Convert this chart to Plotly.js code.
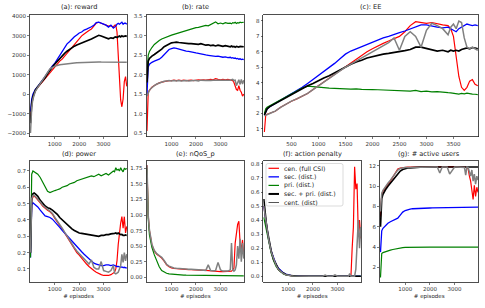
<!DOCTYPE html>
<html><head><meta charset="utf-8">
<script src="https://cdn.plot.ly/plotly-3.0.1.min.js"></script>
<style>html,body{margin:0;padding:0;background:#fff}#chart{width:485px;height:308px}</style>
</head><body><div id="chart"></div>
<script>
// shared episode axis
const episodes = [0,25,50,100,150,200,300,400,500,600,700,800,900,
 1000,1100,1200,1300,1400,1500,1600,1700,1800,1900,
 2000,2100,2200,2300,2400,2500,2600,2700,2800,2900,
 3000,3100,3200,3300,3400,
 3450,3500,3550,3600,3650,3700,3750,3800,3850,3900,3950];

const seriesNames = ['cen. (full CSI)','sec. (dist.)','pri. (dist.)','sec. + pri. (dist.)','cent. (dist)'];
const panelTitles = ['(a): reward','(b): rate','(c): EE','(d): power','(e): nQoS_p','(f): action penalty','(g): # active users'];
const xLabel = '# episodes';

// (a) reward
const reward_red = [-1300,-800,-500,-150,50,200,350,500,650,800,1000,1150,1300,
 1450,1550,1700,1800,1950,2080,2250,2420,2580,2730,
 2880,3000,3100,3200,3280,3350,3500,3660,3700,3660,
 3620,3560,3500,3520,3450,
 3550,3560,3200,1800,600,-300,-650,-250,650,900,400];
const reward_blue = [-900,-500,-250,0,150,250,400,550,700,900,1100,1300,1450,
 1600,1800,1950,2150,2380,2590,2700,2850,2950,3050,
 3150,3200,3300,3350,3400,3470,3550,3680,3700,3650,
 3600,3550,3450,3550,3400,
 3450,3500,3600,3650,3600,3650,3700,3600,3650,3650,3600];
const reward_black = [-1500,-900,-500,-150,50,200,380,520,680,850,1050,1250,1400,
 1550,1700,1850,1980,2100,2210,2300,2400,2470,2530,
 2590,2640,2700,2750,2790,2840,2900,2980,3030,2990,
 2930,2900,2850,2900,2870,
 2930,2950,2920,2970,2990,2950,3000,2960,2980,3000,2970];
const reward_gray = [-2000,-1200,-700,-250,0,150,350,550,750,950,1150,1300,1380,
 1440,1480,1510,1530,1550,1570,1580,1590,1600,1610,
 1620,1620,1630,1630,1640,1640,1650,1650,1660,1650,
 1650,1650,1640,1650,1640,
 1650,1640,1640,1650,1640,1640,1650,1640,1640,1650,1640];

// (b) rate
const rate_red = [0.55,1.45,1.55,1.6,1.65,1.68,1.72,1.76,1.79,1.81,1.83,1.84,1.85,
 1.85,1.86,1.85,1.86,1.85,1.86,1.85,1.86,1.86,1.85,
 1.86,1.87,1.86,1.87,1.86,1.87,1.88,1.87,1.9,1.88,
 1.87,1.88,1.87,1.88,1.87,
 1.86,1.85,1.8,1.7,1.62,1.6,1.72,1.6,1.55,1.45,1.5];
const rate_blue = [1.5,2.05,2.2,2.27,2.3,2.32,2.35,2.37,2.4,2.45,2.52,2.6,2.65,
 2.67,2.69,2.68,2.66,2.64,2.62,2.61,2.6,2.58,2.57,
 2.56,2.55,2.53,2.52,2.51,2.5,2.49,2.48,2.47,2.48,
 2.46,2.45,2.46,2.44,2.45,
 2.43,2.44,2.42,2.43,2.41,2.42,2.4,2.41,2.39,2.4,2.39];
const rate_green = [2.0,2.35,2.5,2.6,2.66,2.7,2.78,2.84,2.88,2.92,2.95,2.98,3.0,
 3.02,3.04,3.06,3.08,3.1,3.12,3.13,3.15,3.17,3.19,
 3.21,3.22,3.24,3.25,3.27,3.26,3.29,3.31,3.36,3.31,
 3.33,3.31,3.34,3.32,3.33,
 3.31,3.34,3.33,3.35,3.32,3.34,3.33,3.35,3.34,3.34,3.35];
const rate_black = [1.8,2.2,2.35,2.42,2.46,2.48,2.52,2.56,2.6,2.66,2.72,2.76,2.8,
 2.82,2.83,2.84,2.83,2.82,2.82,2.81,2.8,2.8,2.79,
 2.78,2.78,2.8,2.77,2.76,2.77,2.75,2.76,2.74,2.76,
 2.74,2.73,2.75,2.73,2.72,
 2.74,2.72,2.73,2.71,2.73,2.72,2.71,2.73,2.72,2.71,2.72];
const rate_gray = [1.45,1.5,1.55,1.6,1.64,1.67,1.72,1.76,1.79,1.81,1.83,1.84,1.85,
 1.84,1.85,1.84,1.85,1.84,1.85,1.85,1.84,1.85,1.85,
 1.85,1.84,1.86,1.85,1.85,1.86,1.85,1.86,1.86,1.85,
 1.86,1.85,1.86,1.85,1.86,
 1.87,1.88,1.85,1.86,1.72,1.82,1.87,1.75,1.88,1.76,1.86];

// (c) EE
const ee_red = [0.8,1.9,1.95,2.0,2.08,2.15,2.4,2.62,2.8,2.95,3.1,3.3,3.55,
 3.8,4.05,4.3,4.55,4.8,5.05,5.3,5.55,5.8,6.0,
 6.2,6.4,6.55,6.7,6.85,7.0,7.3,7.7,7.95,7.9,
 7.85,7.9,7.8,7.75,7.7,
 7.5,7.0,5.6,4.4,3.7,3.5,3.7,4.1,4.2,3.9,3.8];
const ee_blue = [1.9,2.15,2.3,2.45,2.55,2.65,2.85,3.05,3.25,3.48,3.7,3.95,4.2,
 4.45,4.7,4.95,5.25,5.55,5.85,6.05,6.2,6.35,6.5,
 6.65,6.8,6.9,7.0,7.1,7.25,7.35,7.5,7.65,7.75,
 7.75,7.65,7.6,7.55,7.6,
 7.5,7.4,7.3,7.5,7.6,7.75,7.8,7.75,7.7,7.75,7.7];
const ee_green = [2.0,2.3,2.4,2.5,2.58,2.65,2.85,3.05,3.25,3.45,3.65,3.78,3.76,
 3.72,3.68,3.65,3.62,3.62,3.6,3.58,3.6,3.56,3.57,
 3.55,3.54,3.52,3.54,3.5,3.5,3.48,3.45,3.5,3.42,
 3.45,3.4,3.42,3.36,3.35,
 3.34,3.3,3.3,3.26,3.3,3.28,3.32,3.27,3.26,3.25,3.23];
const ee_black = [1.9,2.15,2.3,2.45,2.55,2.65,2.85,3.05,3.22,3.45,3.65,3.8,3.95,
 4.15,4.3,4.45,4.65,4.85,5.05,5.2,5.35,5.45,5.6,
 5.7,5.78,5.85,5.9,5.95,6.0,6.08,6.15,6.3,6.3,
 6.2,6.15,6.05,6.1,6.0,
 6.1,6.05,6.1,6.05,6.15,6.2,6.25,6.2,6.28,6.25,6.2];
const ee_gray = [1.85,1.9,1.95,2.0,2.08,2.15,2.4,2.62,2.8,2.95,3.1,3.3,3.55,
 3.8,4.05,4.3,4.55,4.8,5.0,5.2,5.4,5.6,5.8,
 6.0,6.2,6.4,6.6,6.9,6.1,7.0,7.3,7.0,6.3,
 7.4,7.85,7.7,7.5,7.1,
 7.6,7.8,7.5,8.0,7.9,6.9,6.3,6.2,6.3,6.2,6.1];

// (d) power
const power_red = [0.2,0.45,0.52,0.54,0.545,0.54,0.525,0.505,0.485,0.47,0.46,0.45,0.435,
 0.41,0.39,0.37,0.345,0.32,0.295,0.27,0.245,0.22,0.2,
 0.185,0.165,0.15,0.13,0.115,0.1,0.09,0.08,0.07,0.065,
 0.06,0.06,0.06,0.065,0.075,
 0.08,0.1,0.15,0.25,0.33,0.38,0.42,0.35,0.42,0.32,0.36];
const power_blue = [0.17,0.44,0.49,0.505,0.5,0.495,0.48,0.46,0.44,0.425,0.42,0.415,0.405,
 0.39,0.372,0.355,0.337,0.32,0.305,0.285,0.268,0.25,0.235,
 0.22,0.205,0.19,0.175,0.16,0.145,0.135,0.13,0.125,0.12,
 0.12,0.125,0.125,0.12,0.125,
 0.12,0.12,0.115,0.115,0.112,0.11,0.112,0.108,0.11,0.106,0.105];
const power_green = [0.17,0.6,0.68,0.7,0.695,0.69,0.68,0.66,0.63,0.6,0.575,0.568,0.572,
 0.58,0.585,0.59,0.6,0.605,0.61,0.62,0.625,0.63,0.64,
 0.645,0.65,0.655,0.66,0.665,0.67,0.665,0.675,0.68,0.67,
 0.68,0.685,0.675,0.69,0.7,
 0.695,0.72,0.705,0.71,0.7,0.72,0.705,0.695,0.715,0.71,0.715];
const power_black = [0.2,0.48,0.54,0.56,0.565,0.56,0.545,0.52,0.5,0.485,0.475,0.47,0.46,
 0.45,0.435,0.415,0.4,0.385,0.37,0.355,0.345,0.335,0.325,
 0.32,0.318,0.315,0.312,0.31,0.308,0.305,0.3,0.3,0.305,
 0.305,0.31,0.31,0.315,0.32,
 0.318,0.32,0.315,0.32,0.312,0.31,0.312,0.305,0.305,0.308,0.305];
const power_gray = [0.2,0.46,0.53,0.55,0.55,0.545,0.53,0.51,0.49,0.475,0.465,0.455,0.44,
 0.415,0.395,0.375,0.35,0.325,0.3,0.275,0.25,0.23,0.21,
 0.195,0.18,0.16,0.145,0.13,0.155,0.11,0.1,0.1,0.145,
 0.09,0.085,0.08,0.09,0.12,
 0.075,0.07,0.075,0.08,0.1,0.12,0.19,0.14,0.2,0.15,0.19];

// (e) nQoS_p
const nqos_red = [1.8,1.3,1.0,0.75,0.62,0.52,0.42,0.37,0.34,0.31,0.26,0.2,0.17,
 0.15,0.145,0.14,0.138,0.135,0.13,0.128,0.125,0.125,0.12,
 0.12,0.118,0.115,0.112,0.11,0.105,0.1,0.1,0.095,0.09,
 0.09,0.09,0.09,0.095,0.1,
 0.1,0.12,0.15,0.55,0.72,0.85,0.9,0.55,0.45,0.6,0.35];
const nqos_green = [1.75,1.2,0.95,0.68,0.56,0.48,0.36,0.25,0.17,0.11,0.08,0.065,0.055,
 0.05,0.045,0.042,0.04,0.038,0.036,0.034,0.033,0.032,0.031,
 0.03,0.03,0.029,0.029,0.028,0.028,0.028,0.027,0.027,0.027,
 0.026,0.026,0.026,0.025,0.025,
 0.025,0.025,0.025,0.025,0.024,0.024,0.024,0.024,0.024,0.023,0.023];
const nqos_gray = [1.8,1.3,1.0,0.76,0.63,0.53,0.43,0.38,0.35,0.32,0.27,0.21,0.18,
 0.16,0.15,0.145,0.14,0.138,0.135,0.132,0.13,0.128,0.125,
 0.122,0.12,0.118,0.115,0.112,0.2,0.11,0.105,0.11,0.24,
 0.12,0.1,0.1,0.1,0.12,
 0.55,0.12,0.1,0.12,0.2,0.5,0.3,0.62,0.25,0.55,0.3];

// (f) action penalty
const pen_red = [0.5,0.47,0.44,0.37,0.31,0.26,0.175,0.118,0.078,0.048,0.032,0.019,0.011,
 0.006,0.004,0.002,0.001,0,0,0,0,0,0,
 0,0,0,0,0,0,0,0,0,0,
 0,0,0,0,0,
 0,0,0,0.2,0.35,0.78,0.62,0.66,0.3,0.4,0.27];
const pen_blue = [0.5,0.47,0.44,0.37,0.31,0.26,0.18,0.125,0.085,0.057,0.038,0.024,0.015,
 0.009,0.006,0.004,0.002,0.001,0,0,0,0,0,
 0,0,0,0,0,0,0,0,0,0,
 0,0,0,0,0,
 0,0,0,0,0,0,0,0,0,0,0];
const pen_green = [0.42,0.4,0.38,0.33,0.28,0.24,0.165,0.11,0.07,0.045,0.028,0.016,0.009,
 0.005,0.003,0.002,0.001,0,0,0,0,0,0,
 0,0,0,0,0,0,0,0,0,0,
 0,0,0,0,0,
 0,0,0,0,0,0,0,0,0,0,0];
const pen_black = [0.55,0.5,0.46,0.38,0.32,0.27,0.18,0.12,0.08,0.05,0.033,0.02,0.012,
 0.007,0.004,0.002,0.001,0,0,0,0,0,0,
 0,0,0,0,0,0,0,0,0,0,
 0,0,0,0,0,
 0,0,0,0,0,0,0,0,0,0,0];
const pen_gray = [0.5,0.47,0.44,0.37,0.31,0.26,0.175,0.118,0.078,0.048,0.032,0.019,0.011,
 0.006,0.004,0.002,0.001,0,0,0,0,0,0,
 0,0,0,0,0,0.008,0,0,0,0.01,
 0,0,0,0,0,
 0,0.02,0,0,0,0,0.05,0.3,0.4,0.2,0.35];

// (g) # active users
const users_red = [7.0,8.8,9.2,9.5,9.7,9.9,10.2,10.5,10.9,11.4,11.7,11.8,11.85,
 11.88,11.9,11.9,11.91,11.92,11.92,11.92,11.93,11.92,11.93,
 11.93,11.93,11.92,11.93,11.93,11.93,11.92,11.93,11.93,11.92,
 11.93,11.92,11.93,11.92,11.9,
 11.9,11.85,11.7,11.0,10.5,9.6,8.7,10.1,9.0,9.9,9.4];
const users_blue = [3.5,5.2,5.6,5.85,6.0,6.1,6.35,6.5,6.6,6.7,6.85,7.15,7.45,
 7.6,7.7,7.75,7.78,7.8,7.8,7.82,7.83,7.84,7.85,
 7.85,7.86,7.86,7.87,7.87,7.87,7.88,7.88,7.88,7.88,
 7.88,7.89,7.9,7.9,7.91,
 7.91,7.92,7.92,7.92,7.92,7.93,7.93,7.93,7.93,7.93,7.93];
const users_green = [1.0,3.2,3.35,3.45,3.5,3.55,3.62,3.7,3.76,3.82,3.88,3.92,3.95,
 3.97,3.98,3.99,3.99,4.0,4.0,4.0,4.0,4.0,4.0,
 4.0,4.0,4.0,4.0,4.0,4.0,4.0,4.0,4.0,4.0,
 4.0,4.0,4.0,4.0,4.0,
 4.0,4.0,4.0,4.0,4.0,4.0,4.0,4.0,4.0,4.0,4.0];
const users_black = [6.0,8.3,8.8,9.2,9.45,9.65,10.0,10.3,10.55,10.85,11.2,11.5,11.65,
 11.75,11.8,11.82,11.85,11.86,11.87,11.88,11.88,11.89,11.89,
 11.9,11.9,11.9,11.9,11.9,11.9,11.9,11.9,11.9,11.9,
 11.9,11.9,11.9,11.9,11.9,
 11.9,11.9,11.9,11.9,11.9,11.9,11.9,11.9,11.9,11.9,11.9];
const users_gray = [7.5,8.9,9.3,9.6,9.8,10.0,10.3,10.6,10.9,11.3,11.6,11.75,11.82,
 11.85,11.86,11.87,11.88,11.88,11.89,11.89,11.9,11.9,11.9,
 11.9,11.9,11.9,11.9,11.3,11.9,11.9,11.9,11.2,11.6,
 11.9,11.9,11.9,11.9,11.85,
 11.1,11.9,11.85,11.5,11.0,11.6,10.5,11.2,10.2,11.0,10.6];

// ---------- styling ----------
const W = 485, H = 308;
const colors = ['#ff0000','#0000ff','#008000','#000000','#808080'];
const widths = [1.2,1.3,1.2,1.7,1.5];
const legendWidths = [1.2,1.3,1.2,2.0,1.0];
const legendLineColors = ['#ff0000','#0000ff','#008000','#000000','#555555'];

// panel boxes in pixels [x0,x1,y0,y1] (y from top)
const panels = [
  {box:[30,127,14.5,136.5], yr:[-2180,4100], ytv:[-2000,-1000,0,1000,2000,3000,4000], yfmt:'d', xtv:[1000,2000,3000],
   s:[reward_red,reward_blue,null,reward_black,reward_gray]},
  {box:[146.5,244,14.5,136.5], yr:[0.41,3.55], ytv:[0.5,1,1.5,2,2.5,3,3.5], yfmt:'.1f', xtv:[1000,2000,3000],
   s:[rate_red,rate_blue,rate_green,rate_black,rate_gray]},
  {box:[263.3,478.3,14.5,136.5], yr:[0.51,8.42], ytv:[1,2,3,4,5,6,7,8], yfmt:'d', xtv:[500,1000,1500,2000,2500,3000,3500],
   s:[ee_red,ee_blue,ee_green,ee_black,ee_gray]},
  {box:[30,127,161,282], yr:[0.02,0.761], ytv:[0.1,0.2,0.3,0.4,0.5,0.6,0.7], yfmt:'.1f', xtv:[1000,2000,3000], xl:true,
   s:[power_red,power_blue,power_green,power_black,power_gray]},
  {box:[146.5,244,161,282], yr:[-0.075,1.867], ytv:[0,0.25,0.5,0.75,1,1.25,1.5,1.75], yfmt:'.2f', xtv:[1000,2000,3000], xl:true,
   s:[nqos_red,null,nqos_green,null,nqos_gray]},
  {box:[263.3,361,161,282], yr:[-0.041,0.821], ytv:[0,0.1,0.2,0.3,0.4,0.5,0.6,0.7,0.8], yfmt:'.1f', xtv:[1000,2000,3000], xl:true,
   s:[pen_red,pen_blue,pen_green,pen_black,pen_gray]},
  {box:[380,478.3,161,282], yr:[0.55,12.49], ytv:[2,4,6,8,10,12], yfmt:'d', xtv:[1000,2000,3000], xl:true,
   s:[users_red,users_blue,users_green,users_black,users_gray]}
];

const axisCommon = {
  showline:true, mirror:true, linecolor:'#222', linewidth:0.8,
  ticks:'outside', ticklen:2, tickwidth:0.6, tickcolor:'#222',
  tickfont:{size:5.5, color:'#333', family:'DejaVu Sans'},
  showgrid:false, zeroline:false, fixedrange:true
};

const px = v => v / W;
const py = v => 1 - v / H;

const data = [];
const layout = {
  width:W, height:H, margin:{l:0,r:0,t:0,b:0},
  paper_bgcolor:'#fff', plot_bgcolor:'#fff',
  font:{family:'DejaVu Sans', color:'#222'},
  showlegend:false,
  annotations:[], shapes:[]
};

panels.forEach((p,i)=>{
  const k = i===0 ? '' : String(i+1);
  const [x0,x1,y0,y1] = p.box;
  layout['xaxis'+k] = Object.assign({}, axisCommon, {
    domain:[px(x0), px(x1)], range:[-20,3960], anchor:'y'+k,
    tickvals:p.xtv, tickformat:'d',
    title: p.xl ? {text:xLabel, font:{size:5.5, color:'#222'}, standoff:2} : undefined
  });
  layout['yaxis'+k] = Object.assign({}, axisCommon, {
    domain:[py(y1), py(y0)], range:p.yr, anchor:'x'+k,
    tickvals:p.ytv, tickformat:p.yfmt
  });
  layout.annotations.push({
    text:panelTitles[i], xref:'paper', yref:'paper',
    x:px((x0+x1)/2), y:py(i<3?7.3:154), xanchor:'center', yanchor:'middle',
    showarrow:false, font:{size:6.6, color:'#222'}
  });
  p.s.forEach((ys,j)=>{
    if(!ys) return;
    data.push({
      type:'scatter', mode:'lines', x:episodes, y:ys,
      xaxis:'x'+k, yaxis:'y'+k,
      name:seriesNames[j], legendgroup:'g'+j, showlegend:false,
      line:{color:colors[j], width:widths[j]},
      hoverinfo:'skip'
    });
  });
});

// legend box inside panel (f), matplotlib style (rounded frame)
const LB = {x0:266, x1:343, y0:163.5, y1:206, r:2};
const rp = `M${px(LB.x0+LB.r)},${py(LB.y0)} L${px(LB.x1-LB.r)},${py(LB.y0)} Q${px(LB.x1)},${py(LB.y0)} ${px(LB.x1)},${py(LB.y0+LB.r)} `+
  `L${px(LB.x1)},${py(LB.y1-LB.r)} Q${px(LB.x1)},${py(LB.y1)} ${px(LB.x1-LB.r)},${py(LB.y1)} `+
  `L${px(LB.x0+LB.r)},${py(LB.y1)} Q${px(LB.x0)},${py(LB.y1)} ${px(LB.x0)},${py(LB.y1-LB.r)} `+
  `L${px(LB.x0)},${py(LB.y0+LB.r)} Q${px(LB.x0)},${py(LB.y0)} ${px(LB.x0+LB.r)},${py(LB.y0)} Z`;
layout.shapes.push({type:'path', path:rp, xref:'paper', yref:'paper', layer:'above',
  fillcolor:'rgba(255,255,255,0.85)', line:{color:'#cccccc', width:0.7}});
seriesNames.forEach((nm,j)=>{
  const yc = 168.3 + j*8.55;
  layout.shapes.push({type:'line', xref:'paper', yref:'paper', layer:'above',
    x0:px(268.5), x1:px(279), y0:py(yc), y1:py(yc),
    line:{color:legendLineColors[j], width:legendWidths[j]}});
  layout.annotations.push({text:nm, xref:'paper', yref:'paper', x:px(281.5), y:py(yc),
    xanchor:'left', yanchor:'middle', showarrow:false, font:{size:6.2, color:'#222'}});
});

Plotly.newPlot('chart', data, layout, {staticPlot:true, displayModeBar:false});
</script>
</body></html>
